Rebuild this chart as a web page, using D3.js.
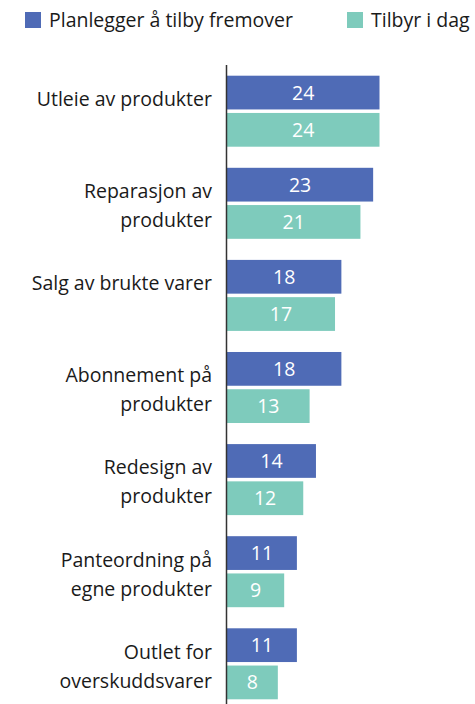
<!DOCTYPE html>
<html>
<head>
<meta charset="utf-8">
<script src="https://cdn.jsdelivr.net/npm/d3@7"></script>
<style>
  body { margin: 0; background: #fff; }
  svg { display: block; font-family: "Open Sans", Lato, sans-serif; }
</style>
</head>
<body>
<svg id="svg"></svg>
<script>
var width = 475,
    height = 704;

// data
var categories = [
  ["Utleie av produkter"],
  ["Reparasjon av", "produkter"],
  ["Salg av brukte varer"],
  ["Abonnement på", "produkter"],
  ["Redesign av", "produkter"],
  ["Panteordning på", "egne produkter"],
  ["Outlet for", "overskuddsvarer"]
];
var series = ["Planlegger å tilby fremover", "Tilbyr i dag"];
var planlegger = [24, 23, 18, 18, 14, 11, 11];
var tilbyr = [24, 21, 17, 13, 12, 9, 8];
var colors = ["#4f6bb6", "#7ecbbc"];

var values = [planlegger, tilbyr];

var svg = d3.select("#svg")
    .attr("width", width)
    .attr("height", height);

var x = d3.scaleLinear()
    .domain([0, 24])
    .range([227, 379.5]);

var y = d3.scaleBand()
    .domain(d3.range(categories.length))
    .range([75.7, 699.3])
    .paddingInner(0.229)
    .paddingOuter(0);

var ySub = d3.scaleBand()
    .domain(d3.range(series.length))
    .range([0, y.bandwidth()])
    .paddingInner(0.094);

// bars
var groups = svg.selectAll("g.group")
    .data(categories)
    .enter().append("g")
    .attr("class", "group")
    .attr("transform", function(d, i){ return "translate(0," + y(i) + ")"; });

groups.each(function(d, i){
    var g = d3.select(this);
    series.forEach(function(s, j){
        var v = values[j][i];
        g.append("rect")
            .attr("x", x(0))
            .attr("y", ySub(j))
            .attr("width", x(v) - x(0))
            .attr("height", ySub.bandwidth())
            .attr("fill", colors[j]);
        g.append("text")
            .attr("x", (x(0) + x(v)) / 2)
            .attr("y", ySub(j) + ySub.bandwidth() / 2 + 7)
            .attr("text-anchor", "middle")
            .attr("fill", "#fff")
            .attr("font-size", 19.5)
            .text(v);
    });

    // category label
    var label = g.append("text")
        .attr("text-anchor", "end")
        .attr("font-size", 19.5)
        .attr("fill", "#1a1a1a");
    d.forEach(function(line, k){
        label.append("tspan")
            .attr("x", 212)
            .attr("y", ySub(0) + ySub.bandwidth() / 2 + 13.5 + k * 29)
            .text(line);
    });
});

// axis line
svg.append("line")
    .attr("x1", x(0) - 0.5)
    .attr("x2", x(0) - 0.5)
    .attr("y1", 65)
    .attr("y2", height)
    .attr("stroke", "#333")
    .attr("stroke-width", 1.5);

// legend
var legendX = [25, 347];
series.forEach(function(s, j){
    svg.append("rect")
        .attr("x", legendX[j])
        .attr("y", 12)
        .attr("width", 16)
        .attr("height", 16)
        .attr("fill", colors[j]);
    svg.append("text")
        .attr("x", legendX[j] + 24)
        .attr("y", 26.5)
        .attr("font-size", 19.5)
        .attr("fill", "#1a1a1a")
        .text(s);
});
</script>
</body>
</html>
